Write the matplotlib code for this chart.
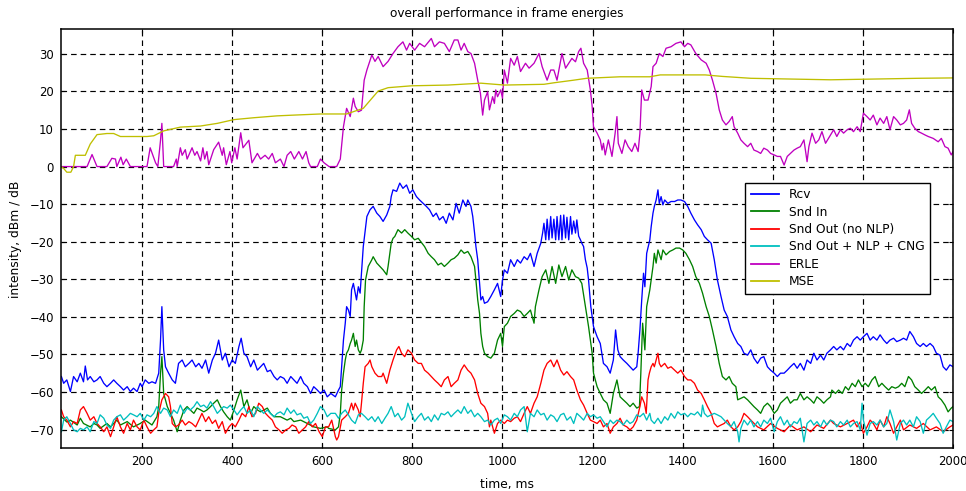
import matplotlib
matplotlib.use("Agg")
import matplotlib.pyplot as plt

plt.rcParams['font.family'] = ['DejaVu Sans']
plt.rcParams['font.size'] = 8.8
plt.rcParams['lines.scale_dashes'] = False

# frame energies, (time in ms, level in dBm / dB)
rcv = [(21,-55.9),(26,-57.7),(33,-56.8),(41,-59.9),(48,-55.9),(56,-57.3),(63,-55.0),(70,-57.3),(74,-53.1),(79,-56.8),
       (85,-55.9),(93,-57.3),(100,-56.8),(107,-55.9),(115,-57.7),(122,-58.6),(130,-57.7),(137,-56.8),(144,-57.7),(152,-58.6),
       (159,-59.5),(167,-58.6),(174,-59.9),(181,-59.0),(189,-59.9),(196,-57.7),(200,-58.6),(207,-56.8),(215,-57.7),(222,-57.3),
       (230,-57.7),(237,-55.0),(241,-46.2),(244,-37.3),(248,-48.8),(252,-53.3),(259,-55.0),(267,-56.8),(274,-57.7),(281,-52.4),
       (289,-51.5),(296,-53.3),(304,-52.4),(311,-51.5),(319,-53.3),(326,-52.4),(333,-53.7),(341,-51.5),(348,-55.0),(356,-51.5),
       (363,-49.7),(370,-46.2),(378,-51.5),(385,-49.7),(393,-53.3),(400,-51.5),(407,-52.4),(415,-47.9),(420,-45.7),(426,-49.7),
       (433,-50.6),(441,-53.3),(448,-51.5),(456,-54.2),(463,-53.3),(470,-52.4),(478,-54.6),(485,-54.2),(493,-55.9),(500,-56.8),
       (507,-55.9),(515,-56.4),(522,-57.7),(530,-55.9),(537,-56.8),(544,-57.7),(552,-55.9),(559,-57.7),(567,-58.6),(574,-60.4),
       (581,-58.6),(589,-59.5),(596,-60.4),(604,-59.5),(611,-61.3),(619,-60.4),(629,-61.3),(636,-59.5),(640,-58.6),(643,-53.3),
       (647,-46.2),(651,-41.7),(654,-37.3),(658,-38.2),(662,-39.9),(665,-32.8),(669,-31.1),(673,-33.7),(676,-35.5),(680,-32.0),
       (684,-33.7),(687,-28.4),(691,-21.3),(699,-13.3),(706,-11.5),(713,-10.6),(721,-12.4),(728,-13.3),(735,-14.6),(743,-12.9),
       (750,-10.6),(753,-8.0),(757,-6.2),(765,-6.6),(772,-4.4),(779,-5.8),(787,-4.9),(794,-7.1),(801,-6.2),(809,-8.0),
       (816,-8.9),(824,-9.8),(831,-10.6),(838,-11.5),(846,-13.3),(853,-12.4),(860,-14.2),(868,-13.3),(875,-15.1),(882,-12.4),
       (890,-14.2),(897,-9.8),(904,-12.4),(912,-8.9),(919,-10.6),(923,-8.9),(930,-10.6),(934,-13.3),(938,-17.7),(941,-21.3),
       (945,-24.8),(949,-31.1),(952,-35.5),(956,-34.6),(960,-36.4),(967,-36.0),(974,-34.6),(982,-32.8),(989,-31.1),(996,-34.6),
       (1000,-30.2),(1004,-27.5),(1011,-28.4),(1018,-24.8),(1026,-26.6),(1033,-24.8),(1040,-25.7),(1048,-24.0),(1055,-24.8),(1062,-23.1),
       (1070,-26.6),(1077,-23.1),(1085,-20.4),(1089,-17.7),(1092,-15.1),(1096,-19.5),(1099,-14.0),(1103,-19.5),(1107,-13.3),(1110,-19.0),
       (1114,-14.0),(1118,-19.5),(1121,-13.3),(1125,-19.5),(1129,-13.0),(1132,-19.5),(1136,-12.9),(1140,-19.0),(1143,-13.5),(1147,-19.5),
       (1151,-13.3),(1154,-18.0),(1158,-14.5),(1162,-17.7),(1165,-14.2),(1169,-18.5),(1173,-19.5),(1176,-20.4),(1180,-21.3),(1184,-24.8),
       (1188,-27.0),(1191,-30.2),(1196,-37.3),(1202,-42.6),(1210,-45.3),(1217,-47.1),(1224,-52.4),(1232,-53.3),(1239,-55.0),(1246,-51.5),
       (1251,-43.5),(1256,-48.8),(1261,-50.6),(1268,-51.5),(1276,-52.4),(1283,-53.3),(1290,-54.2),(1298,-53.3),(1301,-49.7),(1305,-43.5),
       (1309,-35.5),(1313,-28.4),(1316,-32.0),(1320,-23.1),(1327,-19.5),(1330,-16.0),(1334,-12.4),(1337,-10.6),(1341,-8.9),(1345,-6.2),
       (1348,-9.8),(1352,-8.0),(1356,-10.2),(1360,-8.9),(1367,-9.8),(1374,-9.3),(1382,-9.3),(1389,-8.9),(1396,-8.9),(1404,-9.3),
       (1411,-10.6),(1418,-12.4),(1426,-14.2),(1433,-15.5),(1441,-16.8),(1448,-18.6),(1455,-19.5),(1463,-20.4),(1470,-24.8),(1477,-30.2),
       (1485,-34.6),(1492,-38.2),(1499,-39.9),(1507,-43.5),(1514,-45.3),(1522,-47.1),(1529,-47.9),(1536,-49.7),(1544,-50.2),(1551,-48.8),
       (1558,-51.0),(1566,-52.4),(1573,-51.0),(1580,-50.6),(1588,-53.3),(1595,-54.2),(1603,-55.0),(1610,-55.9),(1617,-55.0),(1625,-55.0),
       (1632,-54.2),(1639,-53.3),(1647,-52.4),(1654,-53.7),(1661,-52.4),(1669,-54.2),(1676,-51.5),(1684,-52.4),(1691,-49.7),(1698,-51.5),
       (1706,-50.2),(1713,-51.5),(1720,-49.7),(1728,-48.8),(1735,-47.9),(1742,-48.8),(1750,-47.9),(1757,-48.8),(1765,-47.1),(1772,-47.9),
       (1779,-46.2),(1787,-45.3),(1794,-46.2),(1801,-45.3),(1809,-44.4),(1816,-46.2),(1823,-45.3),(1831,-46.2),(1838,-44.8),(1846,-46.2),
       (1853,-47.1),(1860,-46.2),(1868,-45.7),(1875,-46.6),(1883,-46.2),(1890,-45.7),(1897,-46.2),(1904,-43.9),(1912,-45.3),(1919,-47.1),
       (1927,-47.9),(1934,-47.1),(1941,-47.9),(1949,-47.1),(1956,-47.9),(1963,-49.7),(1971,-50.2),(1978,-53.3),(1985,-54.2),(1993,-52.8),
       (2000,-53.3)]

snd_in = [(21,-66.6),(33,-68.0),(41,-67.5),(56,-68.8),(63,-67.0),(70,-68.4),(85,-69.3),(93,-68.4),(100,-68.8),(107,-69.7),
          (122,-68.4),(130,-69.3),(144,-67.5),(152,-68.8),(167,-67.9),(181,-69.3),(196,-68.4),(207,-67.5),(222,-68.8),(233,-66.6),
          (237,-63.9),(241,-55.0),(244,-50.6),(248,-60.4),(256,-63.9),(263,-65.7),(270,-67.5),(278,-70.6),(285,-67.5),(293,-64.8),
          (300,-63.9),(307,-64.8),(315,-65.7),(322,-64.3),(330,-64.8),(337,-65.3),(344,-64.8),(352,-63.9),(359,-63.0),(367,-62.1),
          (374,-63.9),(381,-65.3),(389,-66.6),(396,-67.5),(404,-64.8),(411,-62.1),(419,-59.5),(426,-63.9),(433,-62.1),(441,-65.7),
          (448,-63.9),(456,-64.8),(463,-65.3),(478,-64.3),(485,-65.7),(493,-66.6),(507,-66.6),(522,-67.5),(530,-67.0),(537,-67.9),
          (552,-67.5),(567,-68.4),(581,-69.3),(596,-69.7),(611,-69.3),(614,-69.7),(629,-70.1),(636,-69.3),(640,-65.7),(643,-59.5),
          (647,-55.0),(651,-51.5),(654,-49.7),(658,-48.8),(662,-47.1),(665,-46.2),(669,-44.4),(673,-47.9),(676,-46.2),(680,-48.8),
          (684,-49.7),(687,-48.8),(691,-46.2),(693,-37.3),(696,-30.2),(702,-26.6),(710,-24.8),(713,-24.0),(721,-25.7),(728,-26.6),
          (735,-27.5),(743,-28.8),(746,-26.6),(750,-23.1),(753,-20.4),(757,-19.1),(761,-18.6),(768,-16.8),(776,-17.7),(783,-16.8),
          (790,-17.7),(798,-18.6),(805,-19.5),(813,-19.1),(820,-20.2),(827,-21.3),(835,-23.1),(842,-24.0),(849,-24.8),(857,-26.2),
          (864,-25.7),(871,-26.6),(879,-25.7),(886,-24.8),(893,-24.4),(901,-23.5),(908,-22.2),(915,-23.1),(923,-22.6),(930,-24.0),
          (938,-26.6),(941,-30.2),(945,-35.5),(949,-39.1),(952,-44.4),(956,-47.9),(960,-49.7),(967,-50.6),(974,-51.0),(982,-49.7),
          (989,-46.2),(996,-44.4),(1000,-47.9),(1004,-42.6),(1011,-41.7),(1018,-39.9),(1026,-39.1),(1033,-38.2),(1040,-38.6),(1048,-39.9),
          (1055,-39.1),(1062,-38.2),(1070,-41.7),(1073,-37.3),(1081,-32.8),(1088,-29.3),(1096,-27.5),(1103,-31.1),(1110,-26.6),(1118,-31.1),
          (1125,-26.2),(1132,-29.3),(1140,-26.6),(1147,-30.2),(1154,-27.5),(1162,-29.3),(1169,-29.7),(1176,-31.1),(1184,-37.3),(1191,-42.6),
          (1199,-49.7),(1202,-55.0),(1210,-58.6),(1217,-60.4),(1224,-62.1),(1232,-63.0),(1239,-65.7),(1246,-60.4),(1254,-56.8),(1261,-61.3),
          (1268,-62.1),(1276,-63.0),(1283,-63.9),(1290,-63.0),(1298,-64.3),(1304,-63.9),(1307,-55.0),(1311,-41.7),(1316,-48.8),(1320,-37.3),
          (1327,-32.8),(1330,-30.2),(1334,-26.6),(1337,-23.1),(1341,-25.7),(1345,-22.2),(1352,-24.8),(1356,-22.2),(1363,-23.5),(1371,-22.6),
          (1378,-22.2),(1385,-21.7),(1393,-21.7),(1400,-22.2),(1407,-23.1),(1415,-24.8),(1422,-26.6),(1429,-29.3),(1437,-31.1),(1444,-33.7),
          (1452,-37.3),(1459,-39.9),(1466,-43.5),(1474,-47.9),(1481,-52.4),(1488,-55.9),(1496,-56.8),(1503,-55.9),(1510,-57.7),(1518,-58.6),
          (1522,-62.1),(1529,-61.7),(1536,-61.3),(1544,-62.1),(1551,-63.0),(1558,-63.9),(1566,-64.8),(1573,-65.7),(1580,-63.9),(1588,-63.0),
          (1595,-63.9),(1603,-65.7),(1610,-64.8),(1617,-63.0),(1625,-62.1),(1632,-61.3),(1639,-63.0),(1647,-62.1),(1654,-62.1),(1661,-60.4),
          (1669,-62.1),(1676,-61.3),(1684,-62.1),(1691,-63.0),(1698,-61.3),(1706,-62.1),(1713,-63.0),(1720,-62.1),(1728,-61.3),(1731,-59.5),
          (1739,-60.4),(1746,-59.5),(1754,-60.4),(1761,-58.6),(1768,-59.5),(1776,-57.7),(1783,-58.6),(1790,-56.8),(1798,-58.6),(1805,-57.7),
          (1812,-58.6),(1820,-56.8),(1827,-55.9),(1835,-58.6),(1842,-57.7),(1849,-58.6),(1857,-59.5),(1864,-58.6),(1872,-59.0),(1879,-58.6),
          (1886,-57.7),(1893,-58.6),(1901,-55.9),(1908,-56.8),(1915,-58.6),(1923,-59.5),(1930,-60.4),(1938,-59.5),(1945,-58.6),(1952,-59.5),
          (1960,-58.6),(1967,-61.3),(1974,-62.1),(1982,-63.5),(1989,-65.3),(1996,-64.3),(2000,-63.9)]

snd_out = [(21,-64.8),(26,-66.6),(33,-67.5),(41,-69.3),(48,-67.9),(56,-68.4),(63,-64.8),(70,-63.9),(78,-65.7),(85,-67.5),
           (93,-66.6),(100,-68.4),(107,-69.3),(115,-70.6),(122,-69.3),(130,-71.9),(137,-69.3),(144,-66.6),(152,-69.3),(159,-71.0),
           (167,-68.4),(174,-70.1),(181,-67.5),(189,-69.3),(196,-70.1),(204,-67.5),(211,-69.3),(219,-71.0),(226,-70.1),(233,-69.3),
           (237,-65.7),(244,-62.1),(252,-60.4),(259,-61.3),(263,-63.9),(267,-68.4),(274,-69.3),(281,-68.8),(289,-67.5),(296,-68.8),
           (304,-67.9),(311,-68.4),(319,-69.3),(326,-67.5),(333,-65.7),(341,-67.9),(348,-66.6),(356,-68.4),(363,-67.5),(370,-69.7),
           (378,-67.9),(385,-71.0),(393,-69.3),(400,-68.4),(407,-69.3),(415,-67.5),(422,-65.7),(430,-66.6),(437,-63.9),(444,-66.6),
           (452,-65.7),(459,-63.0),(467,-63.9),(474,-65.7),(481,-66.6),(489,-67.5),(496,-69.3),(504,-70.1),(511,-71.0),(519,-70.1),
           (526,-69.7),(533,-68.8),(541,-69.3),(548,-71.0),(556,-70.1),(563,-69.3),(570,-67.9),(578,-69.3),(585,-68.4),(593,-70.6),
           (600,-71.9),(607,-69.3),(614,-69.3),(621,-67.5),(629,-71.9),(632,-72.8),(636,-71.9),(640,-69.3),(643,-67.5),(651,-66.6),
           (658,-65.7),(665,-63.0),(669,-64.8),(673,-63.0),(680,-64.8),(684,-66.6),(687,-63.0),(691,-57.7),(695,-53.3),(702,-52.4),
           (706,-51.5),(710,-53.3),(717,-55.0),(724,-55.9),(732,-55.9),(735,-55.0),(743,-57.7),(750,-54.2),(757,-51.5),(765,-48.8),
           (770,-47.9),(776,-49.7),(783,-50.6),(790,-48.8),(798,-49.7),(805,-51.5),(813,-52.4),(820,-52.4),(827,-54.2),(835,-55.0),
           (842,-55.9),(849,-56.8),(857,-57.7),(864,-58.6),(871,-56.8),(879,-55.9),(886,-58.6),(893,-57.7),(901,-56.8),(908,-54.2),
           (915,-52.8),(923,-54.2),(930,-55.0),(938,-56.8),(945,-60.4),(952,-63.0),(960,-63.9),(967,-65.7),(971,-69.3),(974,-67.5),
           (982,-71.0),(989,-68.4),(996,-67.5),(1004,-68.4),(1011,-67.5),(1018,-67.9),(1026,-67.0),(1033,-66.6),(1040,-67.9),(1048,-65.7),
           (1055,-63.9),(1062,-65.7),(1070,-63.0),(1077,-61.3),(1085,-57.7),(1092,-54.2),(1099,-52.4),(1107,-51.5),(1114,-53.3),(1121,-51.5),
           (1129,-54.2),(1136,-55.5),(1143,-54.6),(1151,-55.9),(1158,-56.8),(1165,-59.5),(1173,-62.1),(1180,-63.5),(1188,-65.7),(1195,-67.5),
           (1202,-67.9),(1210,-68.4),(1217,-67.5),(1224,-69.3),(1232,-68.4),(1239,-71.0),(1246,-69.3),(1254,-68.4),(1261,-67.0),(1268,-68.8),
           (1276,-69.3),(1283,-70.1),(1290,-69.3),(1298,-67.5),(1305,-63.9),(1309,-61.3),(1315,-63.0),(1319,-65.7),(1323,-56.8),(1326,-55.0),
           (1330,-53.3),(1334,-52.4),(1337,-53.3),(1341,-51.5),(1345,-49.7),(1348,-52.4),(1352,-53.3),(1360,-52.4),(1367,-53.7),(1374,-53.3),
           (1382,-54.2),(1389,-55.0),(1396,-54.2),(1404,-55.9),(1411,-56.8),(1418,-56.8),(1426,-57.7),(1433,-59.5),(1441,-60.4),(1448,-62.1),
           (1455,-63.9),(1463,-65.7),(1470,-68.4),(1477,-69.3),(1485,-68.8),(1492,-68.4),(1499,-67.5),(1507,-69.3),(1514,-70.1),(1522,-69.3),
           (1529,-67.9),(1536,-65.7),(1544,-66.6),(1551,-67.5),(1566,-69.3),(1580,-70.1),(1595,-68.4),(1610,-69.7),(1625,-70.6),(1639,-68.8),
           (1654,-70.1),(1669,-69.3),(1684,-70.6),(1698,-68.8),(1713,-69.7),(1728,-67.5),(1735,-68.4),(1750,-69.3),(1765,-68.4),(1779,-67.5),
           (1787,-69.3),(1794,-68.0),(1801,-71.0),(1809,-69.3),(1816,-67.5),(1823,-68.4),(1831,-70.1),(1838,-67.5),(1846,-69.3),(1853,-66.6),
           (1860,-68.4),(1868,-71.0),(1875,-69.3),(1883,-67.5),(1890,-70.1),(1904,-68.8),(1919,-69.7),(1934,-68.4),(1949,-70.1),(1963,-69.3),
           (1978,-70.6),(1993,-69.3),(2000,-68.8)]

snd_out_nlp = [(21,-70.6),(26,-67.5),(33,-66.6),(41,-68.4),(48,-70.1),(56,-70.6),(63,-69.7),(70,-70.1),(78,-69.3),(85,-70.6),
               (93,-67.9),(100,-68.4),(107,-66.1),(115,-67.0),(122,-68.8),(130,-69.7),(137,-67.5),(144,-66.6),(152,-66.1),(159,-67.5),
               (167,-66.6),(174,-65.7),(181,-66.1),(189,-66.6),(196,-65.7),(204,-67.5),(211,-66.1),(219,-66.6),(226,-65.7),(233,-63.9),
               (241,-65.7),(248,-64.3),(256,-64.8),(263,-66.6),(270,-64.8),(278,-65.7),(285,-63.5),(293,-65.7),(300,-64.3),(307,-64.8),
               (315,-63.9),(322,-62.6),(330,-63.9),(337,-63.5),(344,-64.3),(352,-62.6),(359,-63.9),(367,-65.7),(374,-64.8),(381,-63.9),
               (389,-64.3),(396,-63.5),(404,-64.8),(411,-66.1),(419,-64.8),(426,-63.9),(433,-65.7),(441,-64.8),(448,-66.6),(456,-63.9),
               (463,-64.8),(470,-65.7),(478,-64.8),(485,-65.7),(493,-66.6),(500,-65.7),(507,-65.3),(515,-66.1),(522,-64.3),(530,-65.7),
               (537,-64.8),(544,-66.1),(552,-65.7),(559,-67.0),(567,-66.6),(574,-68.4),(581,-67.5),(589,-65.7),(596,-63.9),(604,-64.8),
               (611,-66.6),(619,-65.7),(629,-65.7),(636,-67.0),(643,-65.7),(651,-64.8),(658,-66.1),(665,-67.5),(673,-68.4),(680,-66.1),
               (687,-65.7),(695,-66.6),(702,-67.5),(710,-66.6),(717,-67.9),(724,-66.6),(732,-68.4),(739,-67.0),(746,-65.7),(753,-63.9),
               (761,-66.6),(768,-65.7),(776,-67.5),(783,-66.6),(790,-63.0),(798,-65.7),(805,-67.9),(813,-66.6),(820,-65.7),(827,-67.5),
               (835,-66.6),(842,-67.9),(849,-66.1),(857,-67.5),(864,-65.7),(871,-66.1),(879,-65.3),(886,-66.6),(893,-65.7),(901,-64.8),
               (908,-65.7),(915,-63.9),(923,-65.7),(930,-64.8),(938,-66.6),(945,-65.7),(952,-66.6),(960,-67.9),(967,-67.5),(974,-68.8),
               (982,-67.5),(989,-67.0),(996,-68.4),(1004,-66.1),(1011,-66.6),(1018,-67.5),(1026,-65.7),(1033,-66.6),(1040,-64.8),(1048,-63.9),
               (1055,-70.6),(1062,-65.7),(1070,-66.6),(1077,-64.8),(1085,-66.1),(1092,-65.7),(1099,-67.5),(1107,-66.1),(1114,-66.6),(1121,-67.9),
               (1129,-66.1),(1136,-65.7),(1143,-67.5),(1151,-66.6),(1158,-68.4),(1165,-65.7),(1173,-66.6),(1180,-67.5),(1188,-65.7),(1195,-66.6),
               (1202,-66.1),(1210,-67.0),(1217,-66.6),(1224,-67.9),(1232,-69.3),(1239,-67.5),(1246,-68.4),(1254,-67.5),(1261,-67.9),(1268,-68.8),
               (1276,-67.5),(1283,-68.4),(1290,-67.9),(1298,-66.1),(1305,-66.6),(1313,-65.7),(1320,-67.5),(1327,-65.7),(1330,-67.5),(1337,-68.4),
               (1345,-67.0),(1352,-68.4),(1360,-66.6),(1367,-67.5),(1374,-65.7),(1382,-67.0),(1389,-65.3),(1396,-66.1),(1404,-65.7),(1411,-66.6),
               (1418,-65.7),(1426,-66.1),(1433,-65.3),(1441,-66.6),(1444,-63.5),(1448,-65.7),(1455,-66.6),(1463,-66.1),(1470,-65.7),(1477,-66.1),
               (1485,-66.6),(1492,-67.5),(1499,-68.4),(1507,-69.3),(1514,-67.9),(1522,-70.6),(1525,-73.3),(1529,-69.7),(1536,-67.5),(1544,-68.8),
               (1551,-67.5),(1558,-69.3),(1566,-67.9),(1573,-69.3),(1580,-67.5),(1588,-68.4),(1595,-67.0),(1603,-70.6),(1610,-67.9),(1617,-66.6),
               (1625,-68.8),(1632,-67.5),(1639,-69.3),(1647,-67.9),(1654,-68.4),(1661,-67.0),(1669,-73.3),(1676,-68.4),(1684,-67.5),(1691,-68.8),
               (1698,-67.9),(1706,-69.3),(1713,-67.5),(1720,-68.8),(1728,-67.5),(1735,-67.9),(1742,-69.3),(1750,-67.9),(1757,-68.8),(1765,-67.5),
               (1772,-69.3),(1779,-68.4),(1787,-67.9),(1794,-70.1),(1798,-63.0),(1801,-67.5),(1809,-71.5),(1816,-68.4),(1823,-67.9),(1831,-68.8),
               (1838,-67.5),(1846,-69.3),(1853,-68.4),(1860,-64.8),(1868,-67.9),(1875,-72.8),(1883,-68.4),(1890,-67.5),(1897,-68.8),(1904,-67.5),
               (1912,-69.3),(1919,-66.6),(1927,-67.9),(1934,-71.0),(1941,-67.5),(1949,-66.6),(1956,-65.7),(1963,-67.0),(1971,-68.4),(1978,-71.0),
               (1985,-69.3),(1993,-67.5),(2000,-67.9)]

erle = [(20,0),(78,0),(89,3.2),(100,0),(122,0),(133,2.2),(141,2.0),(144,0),(153,2.5),(158,0.5),
        (165,2.0),(174,0),(211,0),(218,5.0),(224,3.0),(230,1.0),(235,0),(241,7.0),(244,11.5),(248,0),
        (270,0),(276,2.0),(278,0),(285,5.0),(289,3.0),(296,4.5),(300,2.0),(311,5.0),(317,3.0),(322,4.0),
        (330,1.5),(335,5.0),(339,2.0),(344,4.0),(348,0.5),(359,4.5),(370,6.5),(378,3.0),(381,5.0),(387,0.5),
        (395,4.0),(399,1.0),(406,5.0),(411,2.0),(419,9.0),(424,5.0),(437,7.0),(444,1.0),(456,3.5),(463,2.0),
        (473,3.0),(481,2.0),(489,3.5),(496,1.0),(507,2.0),(515,0),(522,3.0),(530,4.0),(538,2.0),(548,4.0),
        (556,2.0),(564,4.0),(570,1.0),(574,0),(589,0),(596,2.0),(604,1.0),(615,0),(632,0),(640,2.0),
        (647,10.6),(654,15.5),(662,13.3),(669,18.2),(673,16.0),(680,14.6),(687,15.0),(693,23.0),(699,25.7),(710,29.7),
        (717,28.0),(724,29.3),(735,26.6),(746,28.0),(757,30.1),(768,31.9),(779,33.2),(787,31.0),(794,32.8),(805,31.0),
        (816,32.8),(827,31.9),(842,34.1),(849,31.9),(860,33.2),(871,32.8),(882,30.6),(893,33.7),(901,33.7),(908,31.0),
        (915,32.8),(923,30.6),(930,30.1),(938,27.5),(945,23.0),(951,19.5),(956,13.7),(960,17.7),(967,19.9),(971,15.1),
        (978,18.6),(982,16.8),(985,20.4),(989,18.6),(996,20.4),(1000,18.2),(1004,25.7),(1011,22.2),(1018,28.8),(1026,27.0),
        (1033,29.3),(1040,25.3),(1051,27.5),(1059,26.2),(1070,27.5),(1081,30.1),(1088,26.6),(1099,23.0),(1107,25.7),(1114,25.7),
        (1121,23.0),(1132,30.1),(1140,26.2),(1147,27.5),(1154,28.8),(1162,27.9),(1169,30.6),(1174,31.5),(1180,27.5),(1188,25.7),
        (1195,20.4),(1199,16.0),(1202,10.6),(1210,8.9),(1217,7.1),(1221,4.4),(1224,6.2),(1228,3.1),(1235,7.1),(1243,2.7),
        (1250,8.9),(1254,13.3),(1257,6.2),(1265,3.5),(1272,7.1),(1279,5.3),(1287,4.0),(1294,6.2),(1301,4.0),(1305,8.9),
        (1309,20.4),(1315,17.7),(1323,17.7),(1330,21.3),(1334,26.6),(1341,27.5),(1348,30.1),(1356,29.3),(1363,31.5),(1374,31.9),
        (1385,32.8),(1396,33.2),(1404,31.9),(1411,32.8),(1418,32.4),(1429,30.1),(1441,28.4),(1452,27.5),(1459,25.7),(1466,23.0),
        (1474,19.5),(1481,15.1),(1488,12.4),(1496,11.1),(1503,12.0),(1510,13.3),(1514,10.6),(1522,8.9),(1529,7.1),(1536,6.2),
        (1544,5.3),(1551,6.2),(1558,4.4),(1566,4.0),(1573,3.5),(1580,4.9),(1588,4.4),(1595,3.5),(1603,3.1),(1610,2.7),
        (1617,2.7),(1625,0.4),(1632,2.7),(1639,3.5),(1647,4.4),(1654,4.9),(1661,5.3),(1669,7.1),(1676,1.3),(1680,5.3),
        (1687,8.9),(1695,6.2),(1702,7.1),(1709,9.3),(1717,6.2),(1728,8.4),(1735,9.8),(1742,8.0),(1750,9.8),(1757,8.9),
        (1765,9.8),(1772,10.2),(1779,9.3),(1787,10.6),(1794,9.3),(1801,14.2),(1809,13.3),(1816,12.4),(1823,13.7),(1831,11.1),
        (1838,12.9),(1846,11.5),(1853,13.3),(1860,9.8),(1868,13.3),(1875,12.4),(1883,11.1),(1890,11.5),(1897,12.4),(1903,15.1),
        (1908,11.5),(1915,10.2),(1923,9.3),(1930,8.9),(1938,8.4),(1945,8.0),(1956,7.5),(1967,6.6),(1974,7.5),(1982,5.3),
        (1989,4.9),(1996,3.1),(2000,4.0)]

mse = [(20,0),(26,-0.5),(33,-1.5),(42,-1.5),(48,0),(52,3.0),(74,3.0),(85,6.0),(100,8.5),(122,8.8),
       (137,8.8),(152,8.0),(211,8.0),(226,8.2),(248,9.5),(285,10.5),(330,10.8),(367,11.5),(404,12.5),(448,13.0),
       (500,13.5),(537,13.7),(596,14.0),(654,14.0),(691,15.5),(724,20.1),(746,21.0),(798,21.5),(879,21.7),(952,22.2),
       (1004,21.7),(1092,21.9),(1114,22.3),(1158,23.0),(1187,23.5),(1261,23.9),(1327,23.9),(1350,24.4),(1450,24.4),(1488,24.0),
       (1551,23.5),(1728,23.1),(1923,23.5),(2000,23.6)]

series = [
    (rcv, 'Rcv', '#0000ff'),
    (snd_in, 'Snd In', '#008000'),
    (snd_out, 'Snd Out (no NLP)', '#ff0000'),
    (snd_out_nlp, 'Snd Out + NLP + CNG', '#00bfbf'),
    (erle, 'ERLE', '#bf00bf'),
    (mse, 'MSE', '#bfbf00'),
]

fig = plt.figure(figsize=(9.66, 4.91), dpi=100)
ax = fig.add_axes([0.0631, 0.087, 0.9235, 0.853])

for data, name, col in series:
    t = [p[0] for p in data]
    v = [p[1] for p in data]
    ax.plot(t, v, color=col, linewidth=0.95, label=name)

ax.set_xlim(20, 2000)
ax.set_ylim(-75, 36.5)
ax.set_xticks(range(200, 2001, 200))
ax.set_yticks(range(-70, 31, 10))
ax.grid(True, color='black', linestyle=(0, (4.0, 2.9)), linewidth=0.85)
ax.set_axisbelow(True)
ax.tick_params(direction='in', length=3, top=True, right=True, pad=5, labelsize=8.4)
for s in ax.spines.values():
    s.set_linewidth(1.1)

ax.set_title('overall performance in frame energies', fontsize=8.7, pad=9)
ax.set_xlabel('time, ms', labelpad=7)
ax.set_ylabel('intensity, dBm / dB', labelpad=5)

leg = ax.legend(loc='upper left', bbox_to_anchor=(0.767, 0.634), borderaxespad=0,
                fancybox=False, framealpha=1, edgecolor='black',
                handlelength=2.3, handletextpad=0.85, labelspacing=0.36, borderpad=0.45)
leg.get_frame().set_linewidth(1.0)
for ln in leg.get_lines():
    ln.set_linewidth(1.3)

fig.savefig('out.png', dpi=100)
